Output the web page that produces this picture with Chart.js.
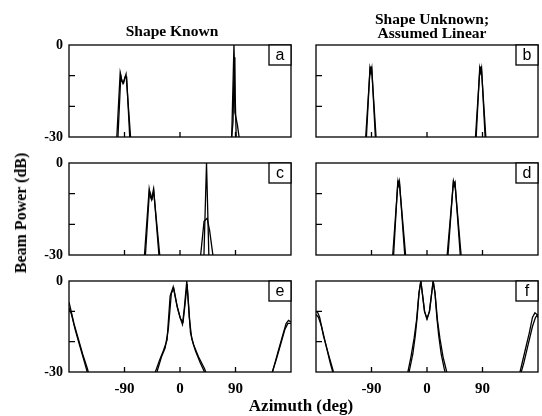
<!DOCTYPE html>
<html><head><meta charset="utf-8">
<script src="https://cdn.jsdelivr.net/npm/chart.js@4.4.0/dist/chart.umd.min.js"></script>
<style>
html,body{margin:0;padding:0;background:#fff;}
#wrap{position:relative;width:542px;height:416px;overflow:hidden;background:#fff;font-family:"Liberation Serif","Times New Roman",serif;}
canvas{position:absolute;}
.t{position:absolute;font-weight:bold;color:#000;white-space:nowrap;transform:translate(-50%,-50%);line-height:1;}
</style></head>
<body><div id="wrap">
<canvas id="pa" width="300" height="112" style="left:0;top:35px"></canvas>
<canvas id="pb" width="242" height="112" style="left:300px;top:35px"></canvas>
<canvas id="pc" width="300" height="112" style="left:0;top:153px"></canvas>
<canvas id="pd" width="242" height="112" style="left:300px;top:153px"></canvas>
<canvas id="pe" width="300" height="130" style="left:0;top:271px"></canvas>
<canvas id="pf" width="242" height="130" style="left:300px;top:271px"></canvas>
<div class="t" style="left:172px;top:31px;font-size:15.5px">Shape Known</div>
<div class="t" style="left:432px;top:19px;font-size:15.5px">Shape Unknown;</div>
<div class="t" style="left:432px;top:33px;font-size:15.5px">Assumed Linear</div>
<div class="t" style="left:21px;top:213px;font-size:16px;transform:translate(-50%,-50%) rotate(-90deg)">Beam Power (dB)</div>
<div class="t" style="left:301px;top:405px;font-size:17px">Azimuth (deg)</div>
</div>
<script>
// ---- data (azimuth in deg, beam power in dB) ----
const A1_az = [-180,-104,-97,-95,-92.5,-90,-87.5,-78,-60,70,83.5,87.5,91.5,98,180];
const A1_db = [-60,-36,-9,-11,-12.5,-11,-9.5,-36,-60,-60,-33,0,-33,-60,-60];
const A2_az = [-180,-102,-96,-94,-91.5,-89,-86.5,-80,-60,70,82,86,88,89,93,100,180];
const A2_db = [-60,-36,-10,-12,-12.5,-10.5,-10.5,-36,-60,-60,-34,-25,-4,-22,-26,-36,-60];

const B1_az = [-180,-101,-92,-91,-90,-81,-60,60,77,86,87,88,97,180];
const B1_db = [-60,-35,-7,-8.5,-7,-35,-60,-60,-35,-7,-8.5,-7,-35,-60];
const B2_az = [-180,-99,-92.5,-91,-89.5,-83,-60,60,79,85.5,87,88.5,95,180];
const B2_db = [-60,-33,-7.5,-9,-7.5,-33,-60,-60,-33,-7.5,-9,-7.5,-33,-60];

const C1_az = [-180,-59,-50,-48,-46,-43,-31,-10,20,38,43,47.5,60,180];
const C1_db = [-60,-34,-8.5,-11,-12,-8.5,-34,-60,-60,-36,0,-36,-60,-60];
const C2_az = [-180,-57,-49.5,-47,-45,-42.5,-33,-10,20,31,39,44,48,56,180];
const C2_db = [-60,-33,-9,-10.5,-11.5,-9,-33,-60,-60,-35,-19,-18,-22,-34,-60];

const D1_az = [-180,-57,-47,-46,-45,-33,-10,10,31,43,44,45,57,180];
const D1_db = [-60,-34,-6,-7,-6,-34,-60,-60,-34,-6,-7,-6,-34,-60];
const D2_az = [-180,-55,-47.5,-46,-44.5,-35,-10,10,33,42.5,44,45.5,55,180];
const D2_db = [-60,-33,-6.5,-7.5,-6.5,-33,-60,-60,-33,-6.5,-7.5,-6.5,-33,-60];

const E1_az = [-180,-177,-172,-165,-158,-150,-145,-120,-60,-46,-40,-33,-27,-21,-16,-11,-5,0,4,7,11,14,17,22,30,40,48,60,120,145,150,158,165,172,176,180];
const E1_db = [-7,-9.5,-14,-19,-24,-29,-33,-60,-60,-34,-30,-26,-23,-19.5,-5,-1.9,-8,-12,-14.3,-9,0,-8,-17,-21,-25,-29,-34,-60,-60,-34,-30,-24,-19,-14,-13,-13.5];
const E2_az = [-180,-176,-170,-163,-156,-149,-143,-120,-60,-42,-36,-30,-24,-19,-14,-10,-4,1,5,8,11.5,15,19,25,33,42,50,60,120,142,148,156,163,170,175,180];
const E2_db = [-9,-11,-16,-21,-26,-31,-35,-60,-60,-34,-29,-25,-22,-16,-4,-2.5,-9,-12.5,-13.5,-8,-1,-12,-19,-23,-27,-31,-35,-60,-60,-35,-31,-26,-21,-16,-14,-14];

const F1_az = [-180,-177,-174,-168,-160,-153,-148,-120,-60,-37,-31,-26,-21,-17,-13,-10,-7,-4,0,4,7,10,13,17,21,26,32,37,60,120,147,152,159,166,171,175,178,180];
const F1_db = [-10,-10.5,-12,-18,-24,-29,-33,-60,-60,-34,-30,-25,-19,-13,-4,0,-5,-10,-12.5,-10,-5,0,-4,-13,-19,-25,-30,-34,-60,-60,-33,-29,-23,-17,-12,-10.5,-11,-12];
const F2_az = [-180,-176,-171,-164,-157,-150,-145,-120,-60,-34,-28,-23,-19,-16,-13,-10,-7,-4,0,4,7,10,13,16,19,23,28,34,60,120,145,150,157,164,171,176,180];
const F2_db = [-11,-12,-15,-21,-27,-32,-36,-60,-60,-34,-29,-24,-18,-12,-4,0,-5,-10,-12.5,-10,-5,0,-4,-12,-18,-24,-29,-34,-60,-60,-36,-32,-27,-21,-15,-12,-11];

const xTickVals = [-90, 0, 90];
const yTickVals = [-10, -20];
const yLabelVals = [0, -30];

// ---- drawing ----
const framePlugin = {
  id: 'frame',
  afterDatasetsDraw(chart, args, opts) {
    const {ctx, chartArea, scales} = chart;
    const {left, right, top, bottom} = chartArea;
    ctx.save();
    ctx.strokeStyle = '#000';
    ctx.lineWidth = 1.3;
    ctx.strokeRect(left, top, right - left, bottom - top);
    ctx.beginPath();
    yTickVals.forEach(v => { const py = scales.y.getPixelForValue(v); ctx.moveTo(left, py); ctx.lineTo(left + 6, py); });
    xTickVals.forEach(v => { const px = scales.x.getPixelForValue(v); ctx.moveTo(px, bottom); ctx.lineTo(px, bottom - 5); });
    ctx.stroke();
    const bw = 22, bh = 20;
    ctx.fillStyle = '#fff';
    ctx.fillRect(right - bw, top, bw, bh);
    ctx.strokeRect(right - bw, top, bw, bh);
    ctx.fillStyle = '#000';
    ctx.font = '16px "Liberation Sans Narrow", "Liberation Sans", Arial, sans-serif';
    ctx.textAlign = 'center';
    ctx.textBaseline = 'middle';
    ctx.fillText(opts.letter, right - bw / 2, top + bh / 2 + 1);
    ctx.restore();
  }
};

function pts(az, db) { return az.map((a, i) => ({x: a, y: db[i]})); }

function makePanel(id, letter, series, leftCol, bottomRow) {
  const datasets = series.map(s => ({
    data: pts(s[0], s[1]), showLine: true, pointRadius: 0,
    borderColor: '#000', borderWidth: 1.3, tension: 0
  }));
  new Chart(document.getElementById(id), {
    type: 'scatter',
    data: {datasets},
    plugins: [framePlugin],
    options: {
      responsive: false, animation: false, devicePixelRatio: 1,
      layout: {padding: {left: leftCol ? 0 : 16, right: leftCol ? 9 : 4, top: 10, bottom: bottomRow ? 4 : 10}},
      plugins: {legend: {display: false}, tooltip: {enabled: false}, frame: {letter}},
      scales: {
        x: {
          type: 'linear', min: -180, max: 180, display: bottomRow,
          grid: {display: false, drawTicks: false}, border: {display: false},
          afterFit: s => { s.height = bottomRow ? 25 : 0; s.paddingLeft = 0; s.paddingRight = 0; },
          ticks: {stepSize: 90, autoSkip: false, maxRotation: 0, padding: 8, color: '#000',
            font: {family: '"Liberation Serif", serif', size: 15, weight: 'bold'},
            callback: v => xTickVals.includes(v) ? String(v) : ''}
        },
        y: {
          type: 'linear', min: -30, max: 0, display: leftCol,
          grid: {display: false, drawTicks: false}, border: {display: false},
          afterFit: s => { s.width = leftCol ? 69 : 0; s.paddingTop = 0; s.paddingBottom = 0; },
          ticks: {stepSize: 10, autoSkip: false, padding: 6, color: '#000',
            font: {family: '"Liberation Serif", serif', size: 14, weight: 'bold'},
            callback: v => yLabelVals.includes(v) ? String(v) : ''}
        }
      }
    }
  });
}

makePanel('pa', 'a', [[A1_az, A1_db], [A2_az, A2_db]], true, false);
makePanel('pb', 'b', [[B1_az, B1_db], [B2_az, B2_db]], false, false);
makePanel('pc', 'c', [[C1_az, C1_db], [C2_az, C2_db]], true, false);
makePanel('pd', 'd', [[D1_az, D1_db], [D2_az, D2_db]], false, false);
makePanel('pe', 'e', [[E1_az, E1_db], [E2_az, E2_db]], true, true);
makePanel('pf', 'f', [[F1_az, F1_db], [F2_az, F2_db]], false, true);
</script>
</body></html>
